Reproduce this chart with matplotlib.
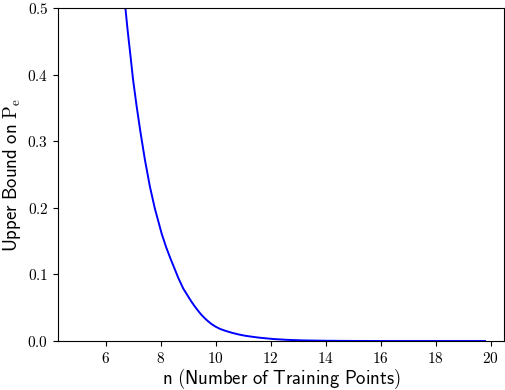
import matplotlib
matplotlib.use("Agg")
import matplotlib.pyplot as plt
from matplotlib.ticker import FormatStrFormatter

plt.rcParams['mathtext.fontset'] = 'cm'

# values
n_points = [6.72, 6.80, 6.90, 7.00, 7.13, 7.27, 7.43, 7.61, 7.79, 8.04, 8.20, 8.37,
            8.46, 8.64, 8.82, 9.00, 9.13, 9.25, 9.37, 9.49, 9.61, 9.73, 9.85,
            10.00, 10.17, 10.34, 10.58, 10.82, 11.06, 11.31, 11.55, 11.79, 12.10,
            12.58, 13.2, 14.0, 15.0, 16.0, 18.0, 19.79]
upper_bound = [0.500, 0.467, 0.430, 0.392, 0.352, 0.313, 0.272, 0.232, 0.199, 0.161,
               0.141, 0.1225, 0.1135, 0.095, 0.079, 0.067, 0.0585, 0.0515, 0.045, 0.039,
               0.034, 0.0295, 0.0255, 0.0215, 0.018, 0.0155, 0.0125, 0.010, 0.008,
               0.0065, 0.0052, 0.0042, 0.003, 0.0018, 0.0009, 0.0004, 0.0001, 0.0,
               0.0, 0.0]
xticks = [6, 8, 10, 12, 14, 16, 18, 20]
yticks = [0.0, 0.1, 0.2, 0.3, 0.4, 0.5]

fig = plt.figure(figsize=(5.06, 3.9), dpi=100)
ax = fig.add_subplot(111)
fig.subplots_adjust(left=0.1146, right=0.996, top=0.9795, bottom=0.1256)

ax.plot(n_points, upper_bound, color='blue', lw=1.4)
ax.set_xlim(4.27, 20.48)
ax.set_ylim(0, 0.5)
ax.set_xticks(xticks)
ax.set_yticks(yticks)
ax.xaxis.set_major_formatter(FormatStrFormatter('$%g$'))
ax.yaxis.set_major_formatter(FormatStrFormatter('$%.1f$'))
ax.tick_params(labelsize=11)
ax.set_xlabel(r'$\mathsf{n\ (Number\ of\ Training\ Points)}$', fontsize=13.5, labelpad=0.5)
ax.set_ylabel(r'$\mathsf{Upper\ Bound\ on\ }\mathrm{P}_\mathrm{e}$', fontsize=13.5, labelpad=3)

plt.savefig("out.png", dpi=100)
